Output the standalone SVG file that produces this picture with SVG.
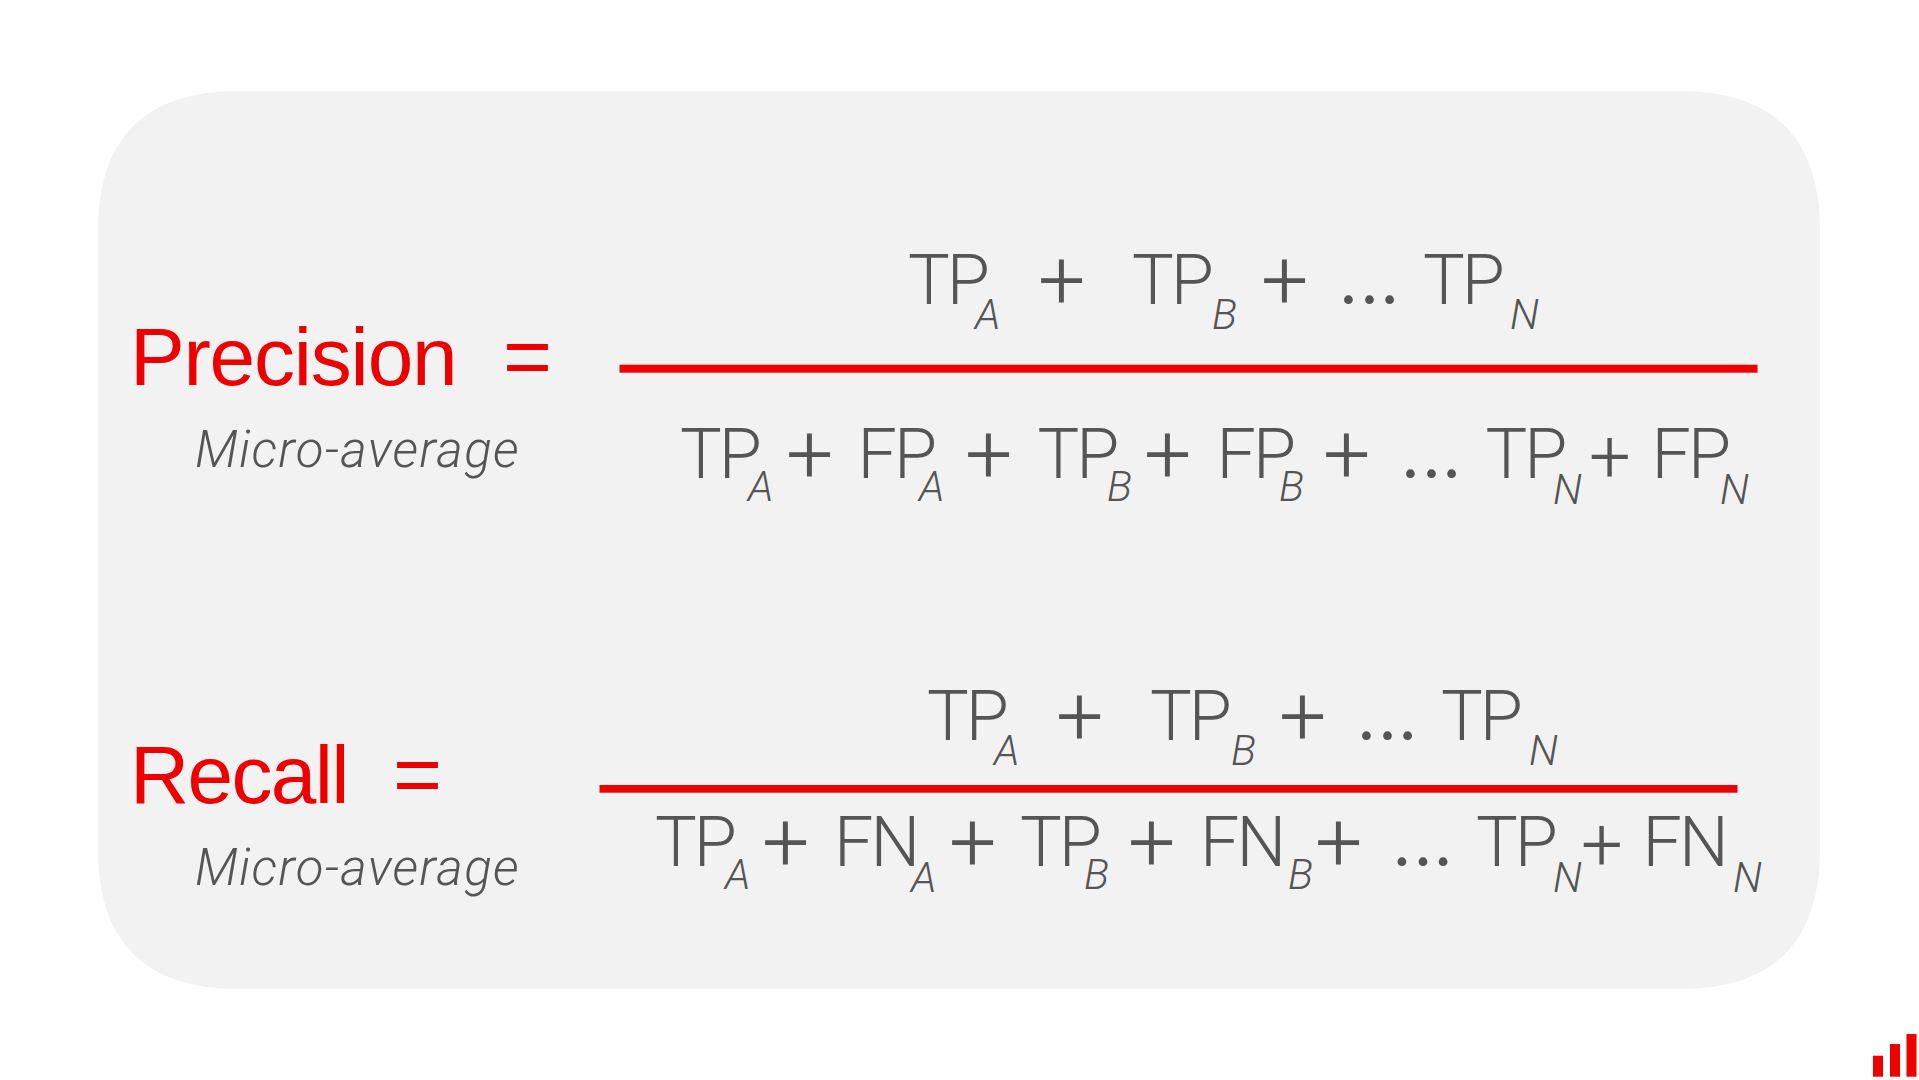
<svg xmlns="http://www.w3.org/2000/svg" width="1919" height="1080" viewBox="0 0 1919 1080">
<style>
text{font-family:Roboto,"Liberation Sans",sans-serif}
.t{font-size:70px;font-weight:300;fill:#555;letter-spacing:-3px}
.s{font-size:42px;font-weight:300;font-style:italic;fill:#555}
.p{font-size:84px;font-weight:300;fill:#555}
.p2{font-size:74px;font-weight:300;fill:#555}
.e{font-size:105px;font-weight:300;fill:#555}
.h{font-size:82px;fill:#ee0000;font-family:"Liberation Sans",sans-serif;letter-spacing:-1.2px}
.h2{letter-spacing:-1.7px}
.q{font-size:84px;fill:#ee0000;font-family:"Liberation Sans",sans-serif}
.m{font-size:51px;font-weight:300;font-style:italic;fill:#555;letter-spacing:1.3px}
.r,.b{fill:#ee0000}
</style>
<path id="panel" fill="#f2f2f2" d="M98 231C98 138 145 91 238 91H1680C1773 91 1820 138 1820 231V849C1820 942 1773 989 1680 989H238C145 989 98 942 98 849Z"/>
<g id="precision">
<text class="h" x="130" y="385">Precision</text>
<text class="q" x="503" y="385">=</text>
<text class="m" x="195" y="467">Micro-average</text>
<rect class="r" x="619.5" y="364.7" width="1138" height="8"/>
<g id="precision-numerator">
<text class="t" x="908" y="304">TP</text><text class="s" x="975" y="329">A</text>
<text class="p" x="1038" y="309">+</text>
<text class="t" x="1132" y="304">TP</text><text class="s" x="1212" y="329">B</text>
<text class="p" x="1261" y="309">+</text>
<text class="e" x="1335.5" y="304">…</text>
<text class="t" x="1423" y="304">TP</text><text class="s" x="1510" y="329">N</text>
</g>
<g id="precision-denominator">
<text class="t" x="680" y="478">TP</text><text class="s" x="748" y="501">A</text>
<text class="p" x="786" y="483">+</text>
<text class="t" x="857.5" y="478">FP</text><text class="s" x="919" y="501">A</text>
<text class="p" x="965" y="483">+</text>
<text class="t" x="1037.5" y="478">TP</text><text class="s" x="1107" y="501">B</text>
<text class="p" x="1144" y="483">+</text>
<text class="t" x="1216.5" y="478">FP</text><text class="s" x="1279" y="501">B</text>
<text class="p" x="1323" y="483">+</text>
<text class="e" x="1397.5" y="478">…</text>
<text class="t" x="1485.5" y="478">TP</text><text class="s" x="1553" y="504">N</text>
<text class="p2" x="1589" y="482">+</text>
<text class="t" x="1651.5" y="478">FP</text><text class="s" x="1720" y="504">N</text>
</g>
</g>
<g id="recall">
<text class="h h2" x="130" y="803">Recall</text>
<text class="q" x="393" y="803">=</text>
<text class="m" x="195" y="885">Micro-average</text>
<rect class="r" x="599.5" y="785" width="1138" height="7.7"/>
<g id="recall-numerator">
<text class="t" x="927" y="740">TP</text><text class="s" x="994" y="765">A</text>
<text class="p" x="1056" y="745">+</text>
<text class="t" x="1150" y="740">TP</text><text class="s" x="1231" y="765">B</text>
<text class="p" x="1279" y="745">+</text>
<text class="e" x="1353.5" y="740">…</text>
<text class="t" x="1441" y="740">TP</text><text class="s" x="1529" y="765">N</text>
</g>
<g id="recall-denominator">
<text class="t" x="655" y="866">TP</text><text class="s" x="725" y="889">A</text>
<text class="p" x="762" y="871">+</text>
<text class="t" x="834" y="866">FN</text><text class="s" x="911" y="892">A</text>
<text class="p" x="949" y="871">+</text>
<text class="t" x="1020" y="866">TP</text><text class="s" x="1084" y="889">B</text>
<text class="p" x="1128" y="871">+</text>
<text class="t" x="1200" y="866">FN</text><text class="s" x="1288" y="889">B</text>
<text class="p" x="1315" y="871">+</text>
<text class="e" x="1389" y="866">…</text>
<text class="t" x="1476" y="866">TP</text><text class="s" x="1553" y="892">N</text>
<text class="p2" x="1581" y="870">+</text>
<text class="t" x="1642.5" y="866">FN</text><text class="s" x="1733" y="892">N</text>
</g>
</g>
<g id="logo">
<rect class="b" x="1873" y="1055.7" width="10" height="21"/>
<rect class="b" x="1890" y="1044" width="10" height="32.7"/>
<rect class="b" x="1906.5" y="1034" width="10" height="42.7"/>
</g>
</svg>
